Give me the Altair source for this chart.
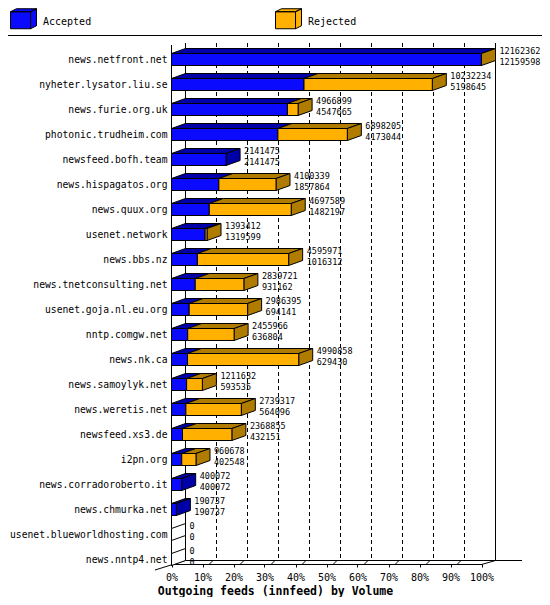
import json
import altair as alt
import pandas as pd

# ---------------- data ----------------
hosts = ["news.netfront.net", "nyheter.lysator.liu.se", "news.furie.org.uk",
         "photonic.trudheim.com", "newsfeed.bofh.team", "news.hispagatos.org",
         "news.quux.org", "usenet.network", "news.bbs.nz", "news.tnetconsulting.net",
         "usenet.goja.nl.eu.org", "nntp.comgw.net", "news.nk.ca", "news.samoylyk.net",
         "news.weretis.net", "newsfeed.xs3.de", "i2pn.org", "news.corradoroberto.it",
         "news.chmurka.net", "usenet.blueworldhosting.com", "news.nntp4.net"]
total = [12162362, 10232234, 4966899, 6898205, 2141475, 4100339, 4697589, 1393412,
         4595971, 2839721, 2986395, 2455966, 4990858, 1211632, 2739317, 2368855,
         960678, 400072, 190737, 0, 0]
accepted = [12159598, 5198645, 4547665, 4173044, 2141475, 1857864, 1482197, 1319599,
            1016312, 931162, 694141, 636804, 629430, 593535, 564096, 432151,
            402548, 400072, 190737, 0, 0]
statuses = ["Accepted", "Rejected"]
tick_pct = list(range(0, 101, 10))
grid_pct = list(range(10, 100, 10))
wall_pct = [0, 100]

# ---------------- style / geometry ----------------
FONT = "DejaVu Sans Mono"
front_colors = ["#0a0aff", "#ffb000"]
dark_colors = ["#0000a8", "#b07c00", "white"]
PLOT_W = 310
PX_PER_PCT = PLOT_W / 100
ROW_PX = 25
DEPTH_X = 14 / PX_PER_PCT      # depth in percent units
DEPTH_Y = 5 / ROW_PX           # depth in row units
HALF = 6 / ROW_PX              # half bar thickness in row units

max_total = max(total)
front_rows, top_rows, side_rows, label_rows = [], [], [], []
for i, (h, T, A) in enumerate(zip(hosts, total, accepted)):
    t = T / max_total * 100
    a = A / max_total * 100
    yt, yb = i - HALF, i + HALF
    for s, (x0, x1) in zip(statuses, [(0, a), (a, t)]):
        if x1 > x0:
            seg = f"{i}-{s}"
            front_rows.append(dict(host=h, status=s, x0=x0, x1=x1, yt=yt, yb=yb))
            top_rows.append(dict(seg=seg, status=s, y=yt, xa=x1, xb=x0))
            top_rows.append(dict(seg=seg, status=s, y=yt - DEPTH_Y,
                                 xa=x1 + DEPTH_X, xb=x0 + DEPTH_X))
    last = "Rejected" if T > A else ("Accepted" if T > 0 else "Empty")
    side_rows.append(dict(row=i, status=last, x=t, ya=yt, yb=yb))
    side_rows.append(dict(row=i, status=last, x=t + DEPTH_X,
                          ya=yt - DEPTH_Y, yb=yb - DEPTH_Y))
    label_rows.append(dict(row=i, t=t, top=str(T), bottom=str(A)))

front_df = pd.DataFrame(front_rows)
top_df = pd.DataFrame(top_rows)
side_df = pd.DataFrame(side_rows)
label_df = pd.DataFrame(label_rows)

# plot area: x from image px 171 to 481, y from image px 8 to 564
x_scale = alt.Scale(domain=[0, 100], range=[0.5, PLOT_W + 0.5], nice=False, zero=False)
y_scale = alt.Scale(domain=[0, 20], range=[51.5, 551.5], nice=False, zero=False)

x_axis = alt.Axis(values=tick_pct, labelExpr="datum.value + '%'",
                  title="Outgoing feeds (innfeed) by Volume",
                  tickSize=3, labelPadding=5, grid=False, labelFlush=False,
                  labelOverlap=False, domainColor="black", tickColor="black",
                  labelColor="black", labelFont=FONT, labelFontSize=10,
                  titleFont=FONT, titleFontSize=11.5, titleFontWeight="bold",
                  titleColor="black", titleX=104, titleY=27,
                  titleBaseline="middle", titleAlign="center")
y_axis = alt.Axis(values=list(range(len(hosts))),
                  labelExpr=json.dumps(hosts) + "[datum.value]",
                  ticks=False, domain=False, grid=False,
                  labelPadding=4, title=None, labelFont=FONT, labelFontSize=9.7,
                  labelColor="black", labelOverlap=False, labelFlush=False,
                  labelLimit=300)

cube = ("M-1,-0.77 H0.54 V0.54 H-1 Z "
        "M-1,-0.77 L-0.54,-1 H1 L0.54,-0.77 Z "
        "M0.54,-0.77 L1,-1 V0.31 L0.54,0.54 Z")
legend = alt.Legend(title=None, orient="none", legendX=-161, legendY=0,
                    direction="horizontal", symbolType=cube, symbolSize=676,
                    symbolStrokeColor="black", symbolStrokeWidth=1,
                    symbolOpacity=1, labelFont=FONT, labelFontSize=10,
                    labelColor="black", labelOffset=6, columnPadding=181)

# ---------------- frame decoration (pixel coordinates of the plot group) ----------------
frame_df = pd.DataFrame([
    dict(x=-171, y=27.5, x2=379, y2=27.5),      # legend separator
    dict(x=0.5, y=37, x2=0.5, y2=558),          # front left edge
    dict(x=14.5, y=35, x2=14.5, y2=552.5),      # back left wall
    dict(x=14, y=552.5, x2=351, y2=552.5),      # back floor edge
    dict(x=310.5, y=556.5, x2=324.5, y2=552.5), # right floor slant
    dict(x=-16, y=562, x2=14.5, y2=552.5),      # left floor slant
])
frame = alt.Chart(frame_df).mark_rule(color="black", strokeWidth=1).encode(
    x=alt.X("x:Q", scale=None), y=alt.Y("y:Q", scale=None),
    x2="x2:Q", y2="y2:Q")

grid = alt.Chart(pd.DataFrame({"p": grid_pct})).mark_rule(
    color="black", strokeDash=[4, 3], xOffset=14).encode(
    x=alt.X("p:Q", scale=x_scale, axis=x_axis),
    y=alt.value(35), y2=alt.value(552))
walls = alt.Chart(pd.DataFrame({"p": wall_pct})).mark_rule(
    color="black", xOffset=14).encode(
    x=alt.X("p:Q", scale=x_scale, axis=x_axis),
    y=alt.value(35), y2=alt.value(552))
floor_ticks = alt.Chart(pd.DataFrame({"p": grid_pct})).mark_rule(
    color="black", xOffset=6, x2Offset=10).encode(
    x=alt.X("p:Q", scale=x_scale, axis=x_axis), x2="p:Q",
    y=alt.value(557), y2=alt.value(553))

top_face = alt.Chart(top_df).mark_area(
    orient="horizontal", stroke="black", strokeWidth=1, opacity=1).encode(
    y=alt.Y("y:Q", scale=y_scale, axis=y_axis),
    x=alt.X("xa:Q", scale=x_scale, axis=x_axis, stack=None),
    x2="xb:Q",
    detail="seg:N",
    color=alt.Color("status:N",
                    scale=alt.Scale(domain=statuses + ["Empty"], range=dark_colors),
                    legend=None))
side_face = alt.Chart(side_df).mark_area(
    orient="vertical", stroke="black", strokeWidth=1, opacity=1).encode(
    x=alt.X("x:Q", scale=x_scale, axis=x_axis),
    y=alt.Y("ya:Q", scale=y_scale, axis=y_axis, stack=None),
    y2="yb:Q",
    detail="row:N",
    color=alt.Color("status:N",
                    scale=alt.Scale(domain=statuses + ["Empty"], range=dark_colors),
                    legend=None))
front = alt.Chart(front_df).mark_rect(stroke="black", strokeWidth=1).encode(
    x=alt.X("x0:Q", scale=x_scale, axis=x_axis),
    x2="x1:Q",
    y=alt.Y("yt:Q", scale=y_scale, axis=y_axis),
    y2="yb:Q",
    color=alt.Color("status:N", scale=alt.Scale(domain=statuses, range=front_colors),
                    legend=legend))

txt_top = alt.Chart(label_df).mark_text(
    align="left", baseline="middle", dx=18, dy=-9, font=FONT, fontSize=8.5,
    color="black").encode(
    x=alt.X("t:Q", scale=x_scale, axis=x_axis),
    y=alt.Y("row:Q", scale=y_scale, axis=y_axis), text="top:N")
txt_bot = alt.Chart(label_df).mark_text(
    align="left", baseline="middle", dx=18, dy=2, font=FONT, fontSize=8.5,
    color="black").encode(
    x=alt.X("t:Q", scale=x_scale, axis=x_axis),
    y=alt.Y("row:Q", scale=y_scale, axis=y_axis), text="bottom:N")

chart = alt.layer(
    frame, grid, walls, floor_ticks, top_face, side_face, front, txt_top, txt_bot
).resolve_scale(color="independent").properties(
    width=PLOT_W, height=556,
    padding={"left": 163, "top": 0, "right": 61, "bottom": 33},
    autosize=alt.AutoSizeParams(type="none"),
    background="white",
).configure_view(stroke=None)

chart.save("out.html", embed_options={"renderer": "svg", "actions": False})
